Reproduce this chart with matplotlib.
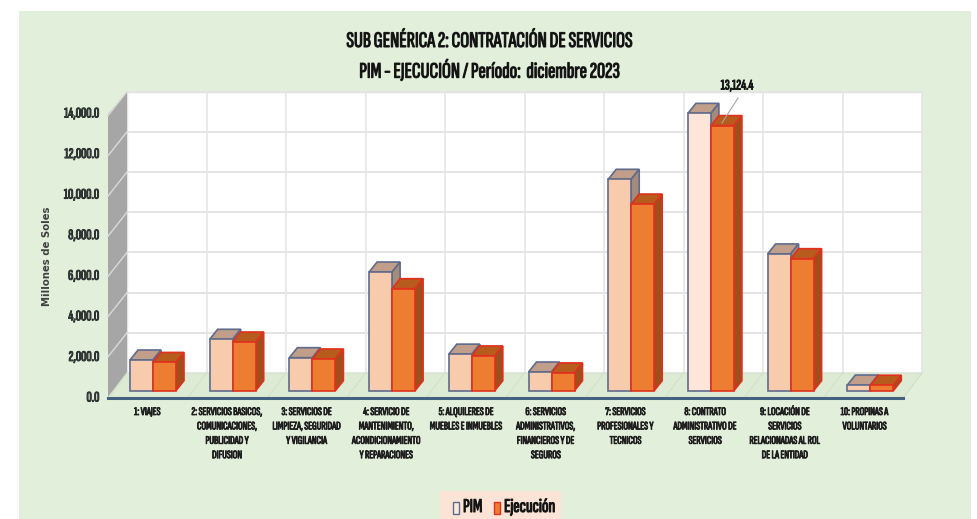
import matplotlib
matplotlib.use("Agg")
import matplotlib.pyplot as plt
import matplotlib.patheffects as pe
from matplotlib.patches import Polygon, Rectangle

categories = [
    "1: VIAJES",
    "2: SERVICIOS BASICOS,\nCOMUNICACIONES,\nPUBLICIDAD Y\nDIFUSION",
    "3: SERVICIOS DE\nLIMPIEZA, SEGURIDAD\nY VIGILANCIA",
    "4: SERVICIO DE\nMANTENIMIENTO,\nACONDICIONAMIENTO\nY REPARACIONES",
    "5: ALQUILERES DE\nMUEBLES E INMUEBLES",
    "6: SERVICIOS\nADMINISTRATIVOS,\nFINANCIEROS Y DE\nSEGUROS",
    "7: SERVICIOS\nPROFESIONALES Y\nTECNICOS",
    "8: CONTRATO\nADMINISTRATIVO DE\nSERVICIOS",
    "9: LOCACIÓN DE\nSERVICIOS\nRELACIONADAS AL ROL\nDE LA ENTIDAD",
    "10: PROPINAS A\nVOLUNTARIOS",
]
pim = [1520, 2545, 1635, 5875, 1810, 925, 10465, 13730, 6770, 280]
ejecucion = [1400, 2410, 1570, 5050, 1720, 880, 9240, 13124.4, 6535, 270]
yticks = [0, 2000, 4000, 6000, 8000, 10000, 12000, 14000]

NARROW = ['Sofia Sans Extra Condensed', 'Liberation Sans', 'DejaVu Sans']
plt.rcParams['font.family'] = NARROW
GREEN = '#E2EFDA'

def heavy(w):
    # la fuente estrecha solo trae peso regular: engrosar con un trazo
    return [pe.withStroke(linewidth=w, foreground='#222222')]

fig = plt.figure(figsize=(9.78, 5.19), dpi=100, facecolor='white')
ax = fig.add_axes([0, 0, 1, 1])

# escala: una categoria = 79.7 px, 1000 soles = 20.2 px
px = 1 / 79.7
py = 1000 / 20.2
ax.set_xlim(-153 * px, (978 - 153) * px)
ax.set_ylim(-128.3 * py, 390.7 * py)
ax.axis('off')

def X(p):
    return (p - 153) * px

def Y(p):
    return (390.7 - p) * py

# panel verde
ax.add_patch(Rectangle((X(19), Y(519)), 952 * px, 508 * py, fc=GREEN, ec='none', zorder=0))

# paredes del grafico (frente -> fondo)
ax.add_patch(Polygon([(X(127), Y(92)), (X(922), Y(92)), (X(922), Y(373)), (X(127), Y(373))],
                     fc='white', ec='#E4E4E4', lw=1, zorder=1))
ax.add_patch(Polygon([(X(108), Y(114)), (X(127), Y(92)), (X(127), Y(373)), (X(108), Y(398))],
                     fc='#A6A6A6', ec='none', zorder=2))
ax.add_patch(Polygon([(X(108), Y(398)), (X(127), Y(373)), (X(922), Y(373)), (X(903), Y(398))],
                     fc='#DEEBD4', ec='#D4DFCC', lw=0.8, zorder=2))

# rejilla
for t in yticks[1:]:
    yb = 373 - t * 0.0201
    ax.plot([X(127), X(922)], [Y(yb), Y(yb)], color='#E4E4E4', lw=1.4, zorder=1.5)
    ax.plot([X(108), X(127)], [Y(yb + 24), Y(yb)], color='#D9D9D9', lw=1.0, zorder=3)
for i in range(11):
    xb = 127 + i * 79.5
    ax.plot([X(xb), X(xb)], [Y(92), Y(373)], color='#E4E4E4', lw=1.1, zorder=1.5)
    ax.plot([X(xb - 19), X(xb)], [Y(398), Y(373)], color='#D4DFCC', lw=0.8, zorder=3)

# eje inferior
ax.plot([X(108), X(903)], [Y(398), Y(398)], color='#44617F', lw=2.2, zorder=4)

# barras 3D
bar_w = 23 * px
dx, dy = 8 * px, 10 * py

def bar3d(x0, v, front, edge, top, side, z):
    ax.bar(x0, v, width=bar_w, align='edge', color=front, edgecolor=edge, linewidth=1.2, zorder=z + 0.2)
    ax.add_patch(Polygon([(x0, v), (x0 + dx, v + dy), (x0 + bar_w + dx, v + dy), (x0 + bar_w, v)],
                         fc=top, ec=edge, lw=1.2, zorder=z))
    ax.add_patch(Polygon([(x0 + bar_w, 0), (x0 + bar_w + dx, dy), (x0 + bar_w + dx, v + dy), (x0 + bar_w, v)],
                         fc=side, ec=edge, lw=1.2, zorder=z))

for i in range(len(categories)):
    front = '#FDE5D8' if i == 7 else '#F8CBAD'
    bar3d(i - bar_w, pim[i], front, '#5F6B8C', '#C09E89', '#A58B7A', 5 + i)
    bar3d(i, ejecucion[i], '#ED7D31', '#E0301E', '#B85C1E', '#9E4F1C', 5.5 + i)

# etiquetas eje y
for t in yticks:
    yp = 398 - t * 0.02029
    ax.text(X(99.5), Y(yp), f"{t:,.1f}", ha='right', va='center', fontsize=10.5,
            color='#333F3F', path_effects=heavy(0.7), zorder=20)
ax.text(X(47), Y(256), "Millones de Soles", rotation=90, ha='center', va='center', fontsize=7.3,
        fontweight='bold', color='#404040', family=['DejaVu Sans'], zorder=20)

# etiquetas categorias
for i, c in enumerate(categories):
    ax.text(i - 5.5 * px, Y(407), c, ha='center', va='top', fontsize=8.3,
            color='#1F1F1F', linespacing=1.55, path_effects=heavy(0.6), zorder=20)

# titulo
ax.text(X(489.5), Y(41.5), "SUB GENÉRICA 2: CONTRATACIÓN DE SERVICIOS", ha='center', va='center',
        fontsize=16, color='#111111', path_effects=heavy(0.8), zorder=20)
ax.text(X(489.5), Y(71), "PIM - EJECUCIÓN / Período:  diciembre 2023", ha='center', va='center',
        fontsize=16, color='#111111', path_effects=heavy(0.8), zorder=20)

# etiqueta del valor con linea guia
ax.plot([X(722), X(738)], [Y(123), Y(98)], color='#A6A6A6', lw=0.8, zorder=30)
ax.text(X(737), Y(86), f"{ejecucion[7]:,.1f}", ha='center', va='center', fontsize=10.5,
        color='#111111', path_effects=heavy(0.7), zorder=20)

# leyenda
ax.add_patch(Rectangle((X(440), Y(519)), 121 * px, 28 * py, fc='#FBE4D6', ec='none', zorder=20))
ax.add_patch(Rectangle((X(452.5), Y(513.5)), 6.5 * px, 11.5 * py, fc='#FBE9DF', ec='#5F6B8C', lw=1, zorder=21))
ax.add_patch(Rectangle((X(493.5), Y(513.5)), 6.5 * px, 11.5 * py, fc='#ED7D31', ec='#E0301E', lw=1, zorder=21))
ax.text(X(463), Y(507), "PIM", ha='left', va='center', fontsize=14, color='#111111',
        path_effects=heavy(0.8), zorder=21)
ax.text(X(504), Y(507), "Ejecución", ha='left', va='center', fontsize=14, color='#111111',
        path_effects=heavy(0.8), zorder=21)

fig.savefig("out.png", dpi=100)
